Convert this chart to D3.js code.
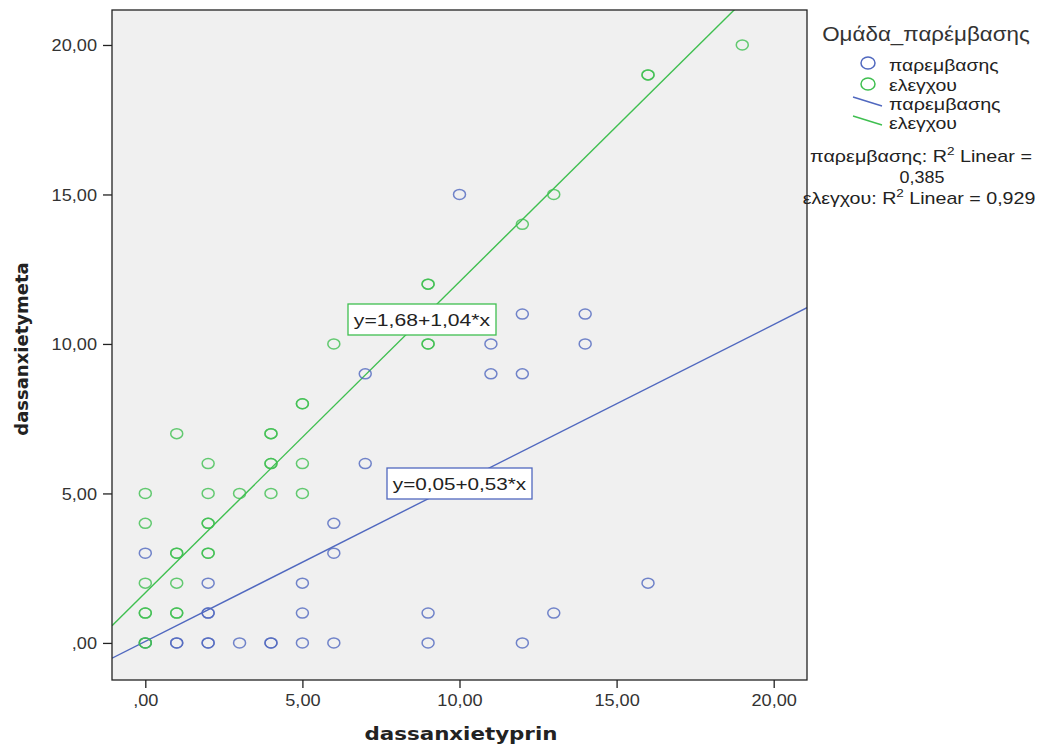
<!DOCTYPE html>
<html>
<head>
<meta charset="utf-8">
<script src="https://cdn.jsdelivr.net/npm/d3@7"></script>
<style>
  body { margin: 0; background: #fff; }
  svg text { font-family: "Liberation Sans", Arial, sans-serif; }
</style>
</head>
<body>
<svg id="chart" width="1041" height="749"></svg>
<script>
// παρεμβασης group (x = dassanxietyprin, y = dassanxietymeta); repeated pairs are overlapping cases
const interventionX = [0, 0, 1, 1, 2, 2, 2, 2, 2, 3, 4, 4, 5, 5, 5, 6, 6, 6, 7, 7, 9, 9, 10, 11, 11, 12, 12, 12, 13, 14, 14, 16];
const interventionY = [3, 0, 0, 0, 2, 1, 1, 0, 0, 0, 0, 0, 2, 1, 0, 4, 3, 0, 9, 6, 1, 0, 15, 10, 9, 11, 9, 0, 1, 11, 10, 2];
// ελεγχου group
const controlX = [0, 0, 0, 0, 0, 0, 0, 1, 1, 1, 1, 1, 1, 2, 2, 2, 2, 2, 2, 3, 4, 4, 4, 4, 4, 5, 5, 5, 5, 6, 9, 9, 9, 9, 12, 13, 16, 16, 19];
const controlY = [5, 4, 2, 1, 1, 0, 0, 7, 3, 3, 2, 1, 1, 6, 5, 4, 4, 3, 3, 5, 7, 7, 6, 6, 5, 8, 8, 6, 5, 10, 12, 12, 10, 10, 14, 15, 19, 19, 20];

// fit lines: intercept, slope
const interventionFit = [0.05, 0.53];
const controlFit = [1.68, 1.04];

const xTicks = [0, 5, 10, 15, 20];
const yTicks = [0, 5, 10, 15, 20];

const blue = "#5068bf";
const green = "#3fbf50";

const svg = d3.select("#chart");
const plotLeft = 112, plotRight = 807, plotTop = 10, plotBottom = 680;

const x = d3.scaleLinear().domain([-1.06, 21.06]).range([plotLeft, plotRight]);
const y = d3.scaleLinear().domain([-1.24, 21.17]).range([plotBottom, plotTop]);

const fmt = v => v === 0 ? ",00" : d3.format(".2f")(v).replace(".", ",");

// the reference text is a little wider than the font, so stretch it sideways
function label(parent, px, py, anchor, size, width) {
    const g = parent.append("g");
    const t = g.append("text").attr("text-anchor", anchor).style("font-size", size + "px").attr("fill", "#222");
    g.fit = () => {
        const k = width / t.node().getBBox().width;
        g.attr("transform", `translate(${px},${py}) scale(${k},1)`);
        return g;
    };
    g.t = t;
    return g;
}

// plot background
svg.append("rect")
    .attr("x", plotLeft).attr("y", plotTop)
    .attr("width", plotRight - plotLeft).attr("height", plotBottom - plotTop)
    .attr("fill", "#f0f0f0");

const clip = svg.append("defs").append("clipPath").attr("id", "plotClip");
clip.append("rect").attr("x", plotLeft).attr("y", plotTop)
    .attr("width", plotRight - plotLeft).attr("height", plotBottom - plotTop);

// axes
const xAxis = svg.append("g")
    .attr("transform", `translate(0,${plotBottom})`)
    .call(d3.axisBottom(x).tickValues(xTicks).tickFormat(fmt).tickSize(8).tickSizeOuter(0));
const yAxis = svg.append("g")
    .attr("transform", `translate(${plotLeft},0)`)
    .call(d3.axisLeft(y).tickValues(yTicks).tickFormat(fmt).tickSize(9).tickSizeOuter(0));

[xAxis, yAxis].forEach(a => {
    a.select(".domain").remove();
    a.selectAll(".tick line").attr("stroke", "#222").attr("stroke-width", 1.3);
    a.selectAll(".tick text").attr("fill", "#333").style("font-size", "16.5px");
});
xAxis.selectAll(".tick text").attr("y", 0).attr("dy", 0).attr("transform", "translate(0,26) scale(1.1,1)");
yAxis.selectAll(".tick text").attr("x", 0).attr("dy", "0.35em").attr("transform", "translate(-15,0) scale(1.1,1)");

// fit lines
const plot = svg.append("g").attr("clip-path", "url(#plotClip)");
const lineFor = fit => [[-1.06, fit[0] + fit[1] * -1.06], [21.06, fit[0] + fit[1] * 21.06]];
const line = d3.line().x(d => x(d[0])).y(d => y(d[1]));

plot.append("path").attr("d", line(lineFor(interventionFit)))
    .attr("stroke", blue).attr("stroke-width", 1.4).attr("fill", "none");
plot.append("path").attr("d", line(lineFor(controlFit)))
    .attr("stroke", green).attr("stroke-width", 1.4).attr("fill", "none");

// points
function drawPoints(xs, ys, color) {
    plot.append("g").selectAll("ellipse")
        .data(xs.map((v, i) => [v, ys[i]]))
        .join("ellipse")
        .attr("cx", d => x(d[0])).attr("cy", d => y(d[1]))
        .attr("rx", 6).attr("ry", 5)
        .attr("fill", "none").attr("stroke", color).attr("stroke-width", 1.5)
        .attr("stroke-opacity", 0.8);
}
drawPoints(interventionX, interventionY, blue);
drawPoints(controlX, controlY, green);

// plot border
svg.append("rect")
    .attr("x", plotLeft).attr("y", plotTop)
    .attr("width", plotRight - plotLeft).attr("height", plotBottom - plotTop)
    .attr("fill", "none").attr("stroke", "#222").attr("stroke-width", 1.3);

// equation labels
function eqLabel(x0, y0, w, h, text, color) {
    svg.append("rect").attr("x", x0).attr("y", y0).attr("width", w).attr("height", h)
        .attr("fill", "#fff").attr("stroke", color).attr("stroke-width", 1.3);
    const g = label(svg, x0 + w / 2, y0 + h / 2 + 6, "middle", 17, w - 11);
    g.t.text(text);
    g.fit();
}
eqLabel(348, 304, 148, 31, "y=1,68+1,04*x", green);
eqLabel(387, 468, 145, 31, "y=0,05+0,53*x", blue);

// axis titles
const xt = label(svg, 461, 740, "middle", 18, 193);
xt.t.style("font-family", "'DejaVu Sans', sans-serif").style("font-weight", "bold").text("dassanxietyprin");
xt.fit();
svg.append("text").attr("transform", "translate(28,349) rotate(-90)")
    .attr("text-anchor", "middle").style("font-size", "18px").style("font-weight", "bold")
    .style("font-family", "'DejaVu Sans', sans-serif")
    .attr("fill", "#222").text("dassanxietymeta");

// legend
const legend = svg.append("g");
const lt = label(legend, 926, 41, "middle", 20, 208);
lt.t.attr("fill", "#333").text("Ομάδα_παρέμβασης");
lt.fit();

const legendItems = [
    { kind: "circle", color: blue, label: "παρεμβασης", y: 63, base: 71, w: 110 },
    { kind: "circle", color: green, label: "ελεγχου", y: 84, base: 91, w: 68 },
    { kind: "line", color: blue, label: "παρεμβασης", y: 102, base: 110, w: 112 },
    { kind: "line", color: green, label: "ελεγχου", y: 121, base: 129, w: 68 }
];
legendItems.forEach(d => {
    if (d.kind === "circle") {
        legend.append("ellipse").attr("cx", 868).attr("cy", d.y).attr("rx", 7).attr("ry", 6)
            .attr("fill", "none").attr("stroke", d.color).attr("stroke-width", 1.5);
    } else {
        legend.append("line").attr("x1", 853).attr("y1", d.y - 5).attr("x2", 882).attr("y2", d.y + 4)
            .attr("stroke", d.color).attr("stroke-width", 1.4);
    }
    const g = label(legend, 889, d.base, "start", 16, d.w);
    g.t.text(d.label);
    g.fit();
});

const r1 = label(legend, 921, 162, "middle", 16, 222);
r1.t.append("tspan").text("παρεμβασης: R");
r1.t.append("tspan").attr("dy", -7).style("font-size", "11px").text("2");
r1.t.append("tspan").attr("dy", 7).text(" Linear =");
r1.fit();
const r0 = label(legend, 922, 183, "middle", 16, 45);
r0.t.text("0,385");
r0.fit();
const r3 = label(legend, 919, 204, "middle", 16, 233);
r3.t.append("tspan").text("ελεγχου: R");
r3.t.append("tspan").attr("dy", -7).style("font-size", "11px").text("2");
r3.t.append("tspan").attr("dy", 7).text(" Linear = 0,929");
r3.fit();
</script>
</body>
</html>
